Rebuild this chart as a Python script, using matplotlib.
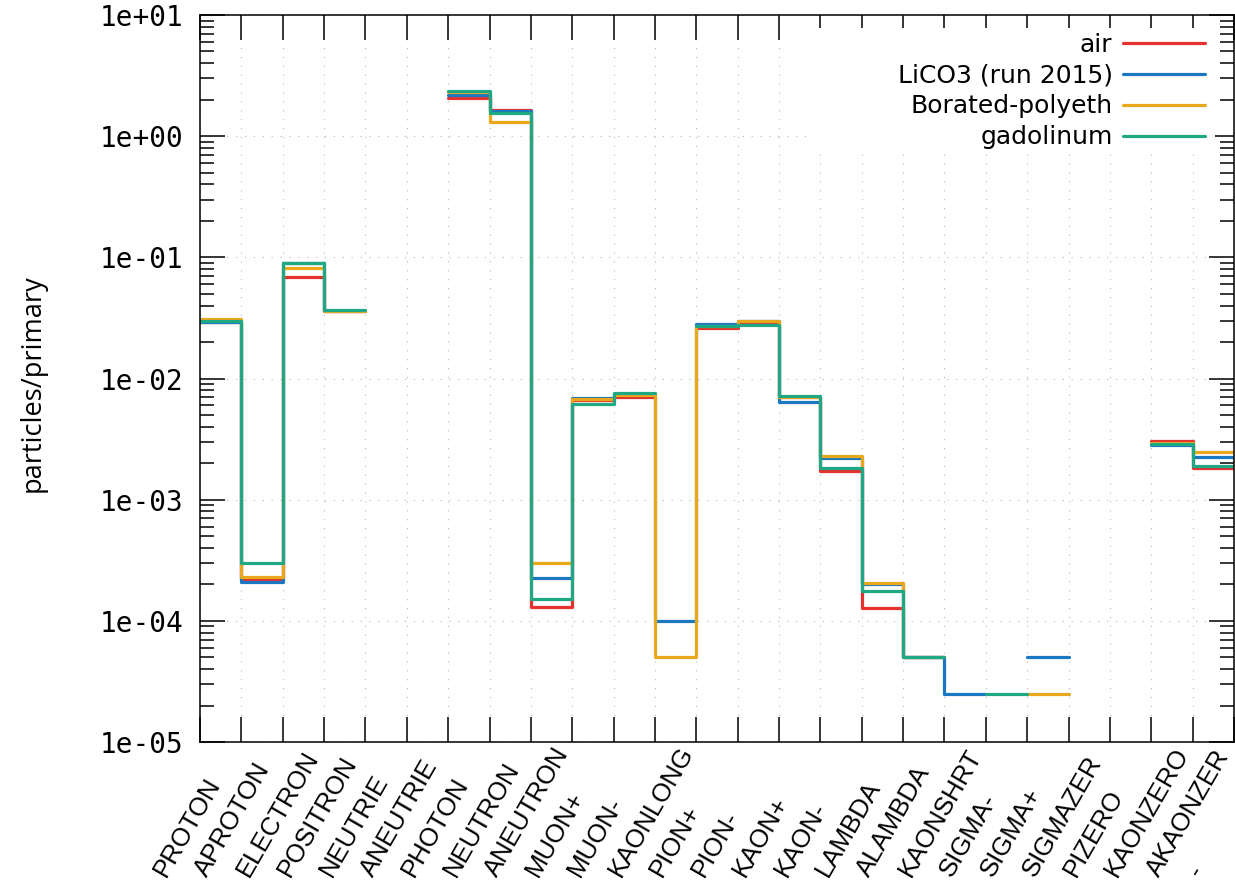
import numpy as np
import matplotlib
matplotlib.use('Agg')
import matplotlib.pyplot as plt
from matplotlib.patches import Rectangle
from matplotlib.ticker import FixedLocator, LogLocator, FuncFormatter
from matplotlib.transforms import ScaledTranslation

nan = np.nan

particles = ['PROTON', 'APROTON', 'ELECTRON', 'POSITRON', 'NEUTRIE', 'ANEUTRIE',
             'PHOTON', 'NEUTRON', 'ANEUTRON', 'MUON+', 'MUON-', 'KAONLONG',
             'PION+', 'PION-', 'KAON+', 'KAON-', 'LAMBDA', 'ALAMBDA', 'KAONSHRT',
             'SIGMA-', 'SIGMA+', 'SIGMAZER', 'PIZERO', 'KAONZERO', 'AKAONZER', '-']

air = [0.029, 2.2e-4, 0.0686, 0.036, nan, nan, 2.08, 1.64, 1.29e-4, 6.6e-3,
       7.1e-3, nan, 0.026, 0.028, 7.0e-3, 1.71e-3, 1.28e-4, 5e-5, nan,
       nan, nan, nan, nan, 3.07e-3, 1.83e-3]
lico3 = [0.029, 2.08e-4, 0.089, 0.036, nan, nan, 2.19, 1.6, 2.26e-4, 6.9e-3,
         7.4e-3, 1e-4, 0.0283, 0.030, 6.4e-3, 2.2e-3, 2.0e-4, 5e-5, 2.5e-5,
         nan, 5e-5, nan, nan, 2.85e-3, 2.26e-3]
borated = [0.031, 2.29e-4, 0.082, 0.036, nan, nan, 2.3, 1.32, 3.0e-4, 6.8e-3,
           7.3e-3, 5e-5, 0.027, 0.030, 7.1e-3, 2.28e-3, 2.04e-4, 5e-5, nan,
           nan, 2.5e-5, nan, nan, 2.95e-3, 2.46e-3]
gadolinum = [0.030, 3.0e-4, 0.0893, 0.0367, nan, nan, 2.37, 1.56, 1.5e-4, 6.2e-3,
             7.58e-3, nan, 0.027, 0.0276, 7.13e-3, 1.82e-3, 1.77e-4, 5e-5, nan,
             2.5e-5, nan, nan, nan, 2.9e-3, 1.89e-3]

series = [('air', air, '#e5322e'),
          ('LiCO3 (run 2015)', lico3, '#1a78c2'),
          ('Borated-polyeth', borated, '#e9a81c'),
          ('gadolinum', gadolinum, '#1fa884')]

plt.rcParams['font.family'] = 'DejaVu Sans Mono'

W, H = 1235, 886
fig = plt.figure(figsize=(W / 100, H / 100), dpi=100)
ax = fig.add_axes([200 / W, 1 - 742 / H, (1234 - 200) / W, (742 - 15) / H])

edges = np.arange(len(particles))
for name, vals, color in series:
    y = np.append(vals, vals[-1])
    ax.plot(edges, y, drawstyle='steps-post', color=color, lw=2.3, label=name,
            solid_joinstyle='round', solid_capstyle='round', zorder=2)

ax.set_yscale('log')
ax.set_ylim(1e-5, 10)
ax.set_xlim(0, len(particles) - 1)

ax.yaxis.set_major_locator(FixedLocator([10.0 ** k for k in range(-5, 2)]))
ax.yaxis.set_minor_locator(LogLocator(base=10, subs=np.arange(2, 10)))
ax.yaxis.set_major_formatter(FuncFormatter(lambda v, p: f'{v:.0e}'))
ax.yaxis.set_minor_formatter(FuncFormatter(lambda v, p: ''))
ax.set_xticks(edges)

ax.tick_params(which='both', direction='in', top=True, right=True, width=1.1)
ax.tick_params(axis='x', which='major', length=18, labelbottom=False)
ax.tick_params(axis='y', which='major', length=18, labelsize=20, pad=12)
ax.tick_params(axis='y', which='minor', length=10)
for s in ax.spines.values():
    s.set_linewidth(1.1)

ax.grid(True, which='major', color='#b8b8b8', linestyle=(0, (1, 7)), linewidth=0.8)

# white area behind the key hides the grid
ax.add_patch(Rectangle((810 / W, 1 - 152 / H), (1215 - 810) / W, (152 - 28) / H,
                       transform=fig.transFigure, facecolor='white',
                       edgecolor='none', zorder=1.8))

offset = ScaledTranslation(-34 / 100, -136 / 100, fig.dpi_scale_trans)
for i, lab in enumerate(particles):
    ax.text(i, 0, lab, transform=ax.get_xaxis_transform() + offset,
            rotation=60, rotation_mode='anchor', ha='left', va='baseline',
            fontsize=18.5, family='Liberation Sans')

fig.text(33 / W, 1 - 383 / H, 'particles/primary', rotation=90, ha='center',
         va='center', fontsize=19.5, family='Open Sans')

ax.legend(loc='upper right', bbox_to_anchor=(1205 / W, 1 - 33 / H),
          bbox_transform=fig.transFigure, frameon=False, markerfirst=False,
          borderpad=0, borderaxespad=0, labelspacing=0.27, handlelength=3.3,
          handletextpad=0.4, prop={'family': 'DejaVu Sans', 'size': 18})

fig.savefig('out.png', dpi=100, facecolor='white')
